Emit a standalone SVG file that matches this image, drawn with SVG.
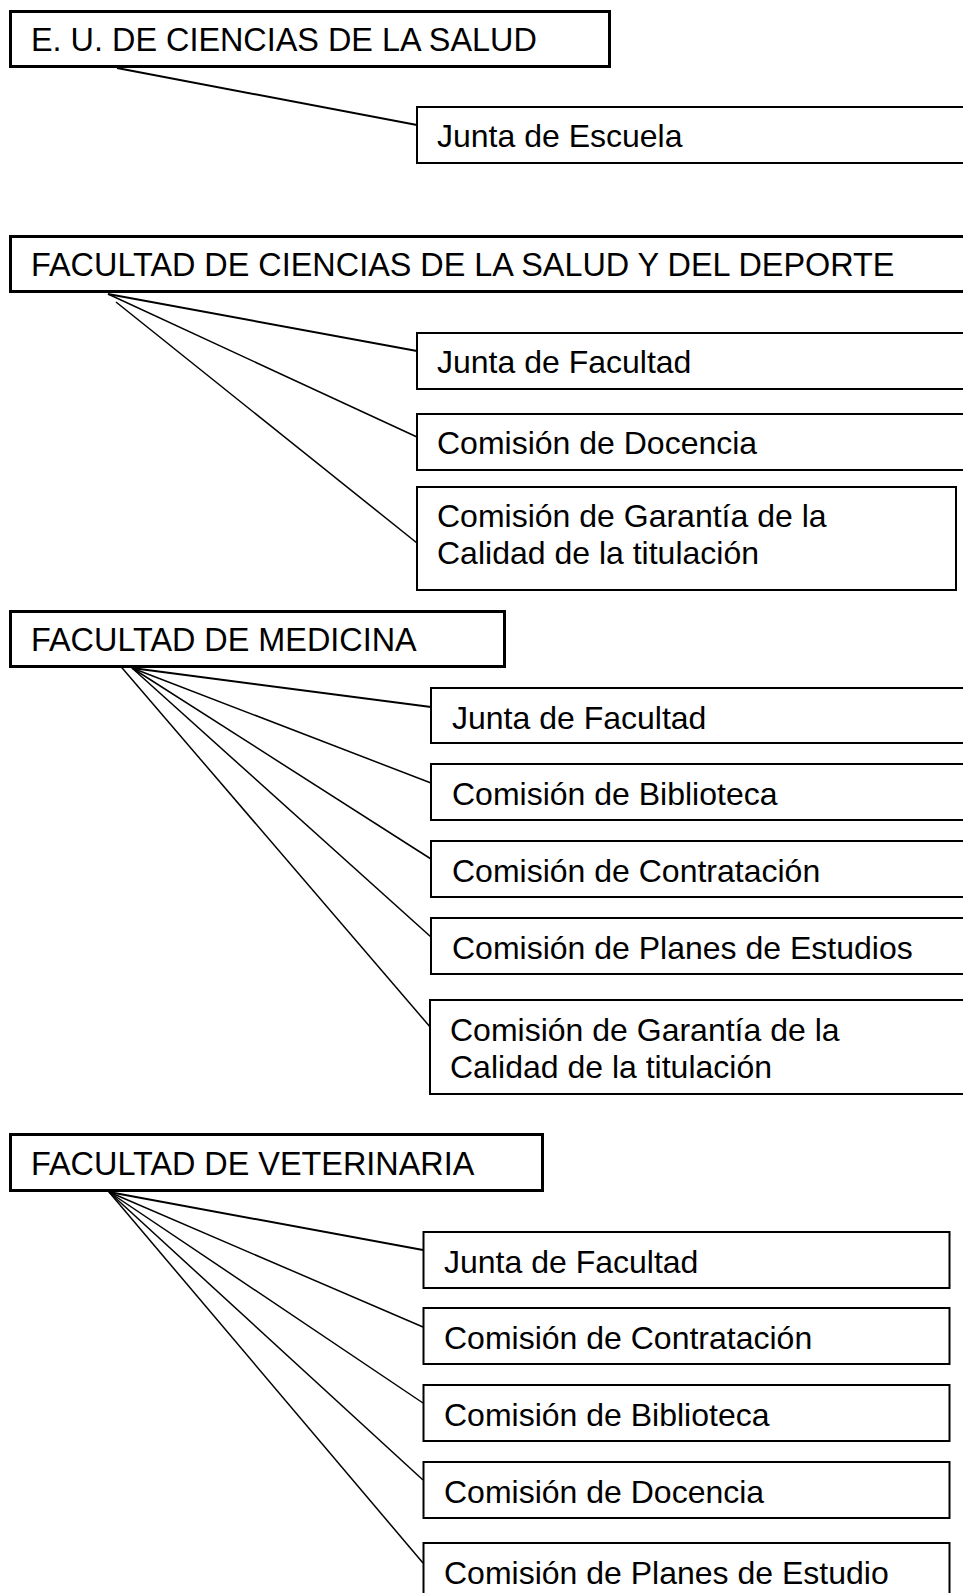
<svg xmlns="http://www.w3.org/2000/svg" width="963" height="1593" viewBox="0 0 963 1593">
<style>
  .parent { fill: #ffffff; stroke: #000000; stroke-width: 3; }
  .child { fill: #ffffff; stroke: #000000; stroke-width: 2; }
  .conn line { stroke: #000000; stroke-width: 1.5; }
  text { font-family: "Liberation Sans", Arial, sans-serif; font-size: 32px; fill: #000000; }
  text.h { font-size: 32.4px; }
</style>
<rect x="0" y="0" width="963" height="1593" fill="#ffffff"/>
<g id="connectors" class="conn">
  <line x1="117" y1="68" x2="417" y2="125" style="stroke-width:2"/>
  <line x1="108" y1="294" x2="417" y2="351" style="stroke-width:2"/>
  <line x1="108" y1="294" x2="417" y2="437"/>
  <line x1="116" y1="302" x2="417" y2="543"/>
  <line x1="132" y1="668" x2="431" y2="707" style="stroke-width:2"/>
  <line x1="132" y1="668" x2="431" y2="783"/>
  <line x1="132" y1="668" x2="431" y2="859"/>
  <line x1="132" y1="668" x2="431" y2="937"/>
  <line x1="117" y1="662" x2="431" y2="1028"/>
  <line x1="109" y1="1192" x2="423" y2="1250" style="stroke-width:2"/>
  <line x1="109" y1="1192" x2="423" y2="1327"/>
  <line x1="109" y1="1192" x2="423" y2="1403"/>
  <line x1="109" y1="1192" x2="423" y2="1480"/>
  <line x1="109" y1="1192" x2="423" y2="1563"/>
</g>
<g id="eu-salud">
  <rect class="parent" x="10.5" y="11.5" width="599" height="55"/>
  <text class="h" x="31" y="51">E. U. DE CIENCIAS DE LA SALUD</text>
</g>
<g id="eu-junta-escuela">
  <rect class="child" x="417" y="107" width="570" height="56"/>
  <text x="437" y="147">Junta de Escuela</text>
</g>
<g id="fcsd">
  <rect class="parent" x="10.5" y="236.5" width="980" height="55"/>
  <text class="h" x="31" y="276">FACULTAD DE CIENCIAS DE LA SALUD Y DEL DEPORTE</text>
</g>
<g id="fcsd-junta">
  <rect class="child" x="417" y="333" width="570" height="56"/>
  <text x="437" y="373">Junta de Facultad</text>
</g>
<g id="fcsd-docencia">
  <rect class="child" x="417" y="414" width="570" height="56"/>
  <text x="437" y="454">Comisión de Docencia</text>
</g>
<g id="fcsd-garantia">
  <rect class="child" x="417" y="487" width="539" height="103"/>
  <text x="437" y="527">Comisión de Garantía de la</text>
  <text x="437" y="564">Calidad de la titulación</text>
</g>
<g id="medicina">
  <rect class="parent" x="10.5" y="611.5" width="494" height="55"/>
  <text class="h" x="31" y="651">FACULTAD DE MEDICINA</text>
</g>
<g id="med-junta">
  <rect class="child" x="431" y="688" width="560" height="55"/>
  <text x="452" y="729">Junta de Facultad</text>
</g>
<g id="med-biblioteca">
  <rect class="child" x="431" y="764" width="560" height="56"/>
  <text x="452" y="805">Comisión de Biblioteca</text>
</g>
<g id="med-contratacion">
  <rect class="child" x="431" y="841" width="560" height="56"/>
  <text x="452" y="882">Comisión de Contratación</text>
</g>
<g id="med-planes">
  <rect class="child" x="431" y="918" width="560" height="56"/>
  <text x="452" y="959">Comisión de Planes de Estudios</text>
</g>
<g id="med-garantia">
  <rect class="child" x="430" y="1000" width="560" height="94"/>
  <text x="450" y="1041">Comisión de Garantía de la</text>
  <text x="450" y="1078">Calidad de la titulación</text>
</g>
<g id="veterinaria">
  <rect class="parent" x="10.5" y="1134.5" width="532" height="56"/>
  <text class="h" x="31" y="1175">FACULTAD DE VETERINARIA</text>
</g>
<g id="vet-junta">
  <rect class="child" x="423.5" y="1232" width="526" height="56"/>
  <text x="444" y="1273">Junta de Facultad</text>
</g>
<g id="vet-contratacion">
  <rect class="child" x="423.5" y="1308" width="526" height="56"/>
  <text x="444" y="1349">Comisión de Contratación</text>
</g>
<g id="vet-biblioteca">
  <rect class="child" x="423.5" y="1385" width="526" height="56"/>
  <text x="444" y="1426">Comisión de Biblioteca</text>
</g>
<g id="vet-docencia">
  <rect class="child" x="423.5" y="1462" width="526" height="56"/>
  <text x="444" y="1503">Comisión de Docencia</text>
</g>
<g id="vet-planes">
  <rect class="child" x="423.5" y="1543" width="526" height="80"/>
  <text x="444" y="1584">Comisión de Planes de Estudio</text>
</g>
</svg>
